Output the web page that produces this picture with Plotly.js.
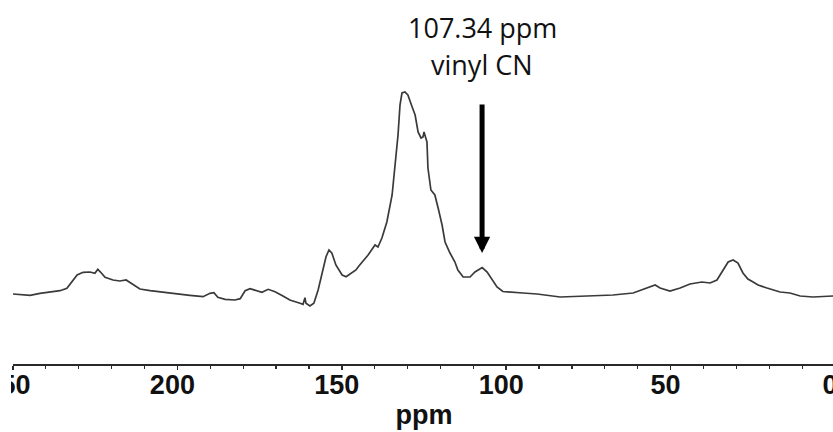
<!DOCTYPE html>
<html>
<head>
<meta charset="utf-8">
<script src="https://cdn.plot.ly/plotly-3.0.1.min.js"></script>
<style>
  html, body { margin: 0; padding: 0; background: #fff; overflow: hidden; }
  #clip { position: absolute; left: 11px; top: 0; width: 822px; height: 432px; overflow: hidden; }
  #chart { position: absolute; left: -38px; top: 0; width: 910px; height: 432px; }
</style>
</head>
<body>
<div id="clip"><div id="chart"></div></div>
<script>
// chemical shift (ppm)
const shift = [
  250.0, 244.8, 241.8, 238.7, 235.7, 233.6, 232.1, 230.5, 228.7, 226.6,
  225.1, 224.2, 223.2, 222.0, 219.6, 217.5, 215.6, 213.8, 211.4, 208.3,
  202.2, 196.2, 192.2, 190.1, 188.9, 187.7, 185.5, 182.5, 180.9, 179.4,
  177.9, 176.4, 174.3, 172.4, 170.3, 167.9, 165.8, 162.7, 161.8, 161.2,
  160.9, 159.7, 158.5, 157.2, 156.0, 154.8, 153.9, 153.0, 151.8, 149.9,
  148.7, 146.9, 145.7, 144.8, 143.6, 142.0, 139.9, 139.0, 137.8, 136.3,
  134.7, 133.8, 132.9, 132.3, 131.7, 130.8, 129.9, 128.6, 127.7, 126.8,
  125.9, 125.3, 125.0, 124.1, 123.8, 122.9, 121.7, 120.7, 119.5, 118.6,
  117.1, 115.6, 114.7, 113.1, 111.0, 109.5, 107.3, 105.8, 104.3, 102.8,
  101.0, 97.9, 94.9, 90.6, 83.6, 75.4, 67.5, 61.4, 57.2, 54.7,
  53.2, 50.2, 47.1, 44.1, 40.5, 38.0, 35.9, 34.1, 32.5, 31.0,
  29.5, 28.0, 26.5, 24.9, 23.4, 20.7, 16.7, 13.7, 10.6, 6.7,
  0.6
];
// intensity (arbitrary units)
const intensity = [
  11, 9.7, 11.7, 13.3, 14.3, 16.7, 23.3, 30, 32.7, 33,
  31.7, 35.7, 32.3, 27.7, 25, 24, 25, 21, 16, 14.3,
  11.7, 9.7, 8.3, 11.7, 12.3, 7.7, 5.7, 5, 6.3, 14.3,
  16.3, 15, 12.7, 15.7, 13.3, 9, 5, 1.7, 0.7, 7.3,
  1.7, -1, 1.7, 15, 31.7, 48.3, 55, 51.7, 40, 30,
  28.3, 32.3, 35, 39, 43.3, 50, 60, 58, 67, 83,
  110, 137, 170, 200, 212, 213, 210, 198, 190, 173,
  167, 168, 173, 163, 137, 115, 110, 97, 80, 63,
  52, 43, 35, 28, 28, 33, 37.5, 33, 25, 18,
  13.5, 13, 12, 11, 8, 9, 10, 12, 17, 20,
  17, 14, 17, 21, 23, 22, 25, 35, 43, 45,
  42, 32, 26, 23, 20, 17, 13, 12, 9, 8,
  9
];
const tickValues = [250, 200, 150, 100, 50, 0];
const tickLabels = ['250', '200', '150', '100', '50', '0'];
const peakShift = 107.34;
const peakLabel = ['107.34 ppm', 'vinyl CN'];
const axisTitle = 'ppm';

const trace = {
  x: shift, y: intensity, type: 'scatter', mode: 'lines',
  line: { color: '#3a3a3a', width: 1.7 }, hoverinfo: 'skip'
};

const layout = {
  width: 910, height: 432,
  margin: { l: 40, r: 48, t: 40, b: 68 },
  paper_bgcolor: '#fff', plot_bgcolor: '#fff',
  showlegend: false,
  xaxis: {
    range: [250, 0], showgrid: false, zeroline: false,
    showline: true, linecolor: '#2a2a2a', linewidth: 2,
    ticks: 'outside', ticklen: 4, tickwidth: 1.5, tickcolor: '#2a2a2a',
    tickvals: tickValues, ticktext: tickLabels,
    ticklabeloverflow: 'allow', ticklabelshift: 5, ticklabelstandoff: -8,
    minor: { dtick: 10, ticks: 'outside', ticklen: 3, tickwidth: 1.2, tickcolor: '#2a2a2a', showgrid: false },
    tickfont: { family: 'Liberation Sans, Arial, sans-serif', size: 27, weight: 'bold', color: '#111' },
    title: { text: axisTitle, standoff: 6,
      font: { family: 'Liberation Sans, Arial, sans-serif', size: 27, weight: 'bold', color: '#111' } }
  },
  yaxis: { range: [-59, 265], visible: false, showgrid: false, zeroline: false },
  annotations: [
    { x: peakShift, y: 52, xref: 'x', yref: 'y', ax: peakShift, ay: 202, axref: 'x', ayref: 'y',
      text: '', showarrow: true, arrowhead: 2, arrowwidth: 5, arrowsize: 0.65, arrowcolor: '#000', standoff: 0 },
    { x: peakShift, y: (364 - 27) / 324, xref: 'x', yref: 'paper', xanchor: 'center', yanchor: 'middle',
      text: peakLabel[0], showarrow: false,
      font: { family: 'Open Sans, sans-serif', size: 27, color: '#111' } },
    { x: peakShift, y: (364 - 64) / 324, xref: 'x', yref: 'paper', xanchor: 'center', yanchor: 'middle',
      text: peakLabel[1], showarrow: false,
      font: { family: 'Open Sans, sans-serif', size: 27, color: '#111' } }
  ]
};

Plotly.newPlot('chart', [trace], layout, { staticPlot: true, displayModeBar: false });
</script>
</body>
</html>
